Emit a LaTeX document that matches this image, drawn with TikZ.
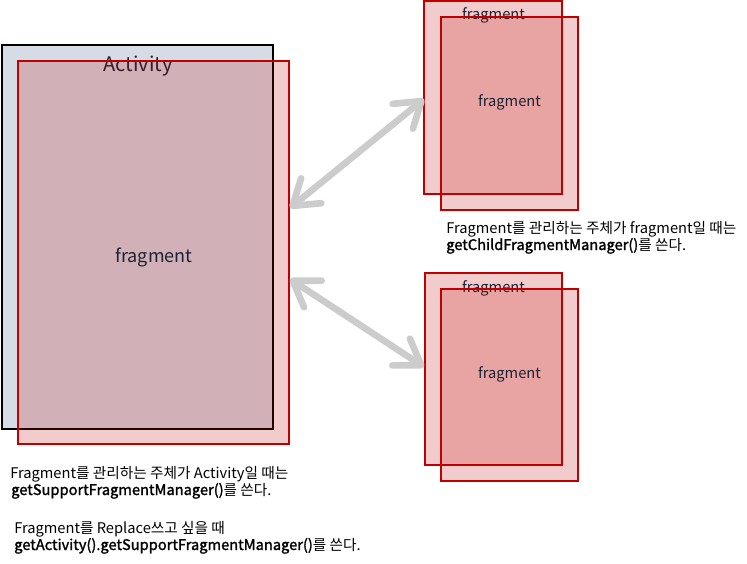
\documentclass[tikz,border=0pt]{standalone}
\usepackage{fontspec}
\setmainfont{Noto Sans CJK KR}
\newfontfamily\semibold[FakeBold=1.6]{Noto Sans CJK KR}
\usetikzlibrary{arrows.meta}
\definecolor{actblue}{HTML}{D6DCE5}
\definecolor{fragred}{HTML}{C00000}
\definecolor{arrowgray}{HTML}{CCCCCC}
\definecolor{labelnavy}{HTML}{1B2233}
\tikzset{
  actbox/.style={rectangle, draw=black, line width=1.6pt, fill=actblue, inner sep=0pt},
  fragbox/.style={rectangle, draw=fragred, line width=1.5pt, fill=fragred, fill opacity=0.2, draw opacity=1, inner sep=0pt},
  biglabel/.style={text=labelnavy, inner sep=0pt, anchor=base, font=\fontsize{15}{18}\selectfont},
  midlabel/.style={text=labelnavy, inner sep=0pt, anchor=base, font=\fontsize{13.5}{16}\selectfont},
  smalllabel/.style={text=labelnavy, inner sep=0pt, anchor=base, font=\fontsize{11}{13}\selectfont},
  note/.style={text=black, inner sep=0pt, anchor=base west, font=\fontsize{11}{13}\selectfont},
  linkarrow/.style={draw=arrowgray, line width=5pt, line cap=round, {Straight Barb[length=18pt,width=24pt,round]}-{Straight Barb[length=18pt,width=24pt,round]}}
}
\begin{document}
\begin{tikzpicture}[x=0.75pt,y=-0.75pt]
\useasboundingbox (0,0) rectangle (747,564);
% left: Activity and its fragment
\node[actbox, minimum width=203.25pt, minimum height=288pt] (act) at (137.5,237) {};
\node[biglabel] (actlabel) at (138,71) {Activity};
\node[fragbox, minimum width=203.25pt, minimum height=287.25pt] (actfrag) at (153.5,252.5) {};
\node[midlabel] (actfraglabel) at (154,262) {fragment};
% top right
\node[fragbox, minimum width=103.5pt, minimum height=144.75pt] (trout) at (493,97.5) {};
\node[smalllabel] (troutlabel) at (493.5,20) {fragment};
\node[fragbox, minimum width=102.75pt, minimum height=144.75pt] (trin) at (509.5,113.5) {};
\node[smalllabel] (trinlabel) at (509.5,106) {fragment};
% bottom right
\node[fragbox, minimum width=102.75pt, minimum height=144pt] (brout) at (493.5,369) {};
\node[smalllabel] (broutlabel) at (493.5,292) {fragment};
\node[fragbox, minimum width=102.75pt, minimum height=144pt] (brin) at (509.5,385) {};
\node[smalllabel] (brinlabel) at (509.5,378) {fragment};
% arrows
\coordinate (a1s) at (290,208);
\coordinate (a1e) at (424,99);
\coordinate (a2s) at (290,279);
\coordinate (a2e) at (424,367);
\draw[linkarrow] (a1s) -- (a1e);
\draw[linkarrow] (a2s) -- (a2e);
% notes
\node[note] (n1) at (446,233) {Fragment를 관리하는 주체가 fragment일 때는};
\node[note] (n2) at (446,250) {{\semibold getChildFragmentManager()}를 쓴다.};
\node[note] (n3) at (10,478) {Fragment를 관리하는 주체가 Activity일 때는};
\node[note] (n4) at (11,495) {{\semibold getSupportFragmentManager()}를 쓴다.};
\node[note] (n5) at (14,533) {Fragment를 Replace쓰고 싶을 때};
\node[note] (n6) at (14,550) {{\semibold getActivity().getSupportFragmentManager()}를 쓴다.};
\end{tikzpicture}
\end{document}
